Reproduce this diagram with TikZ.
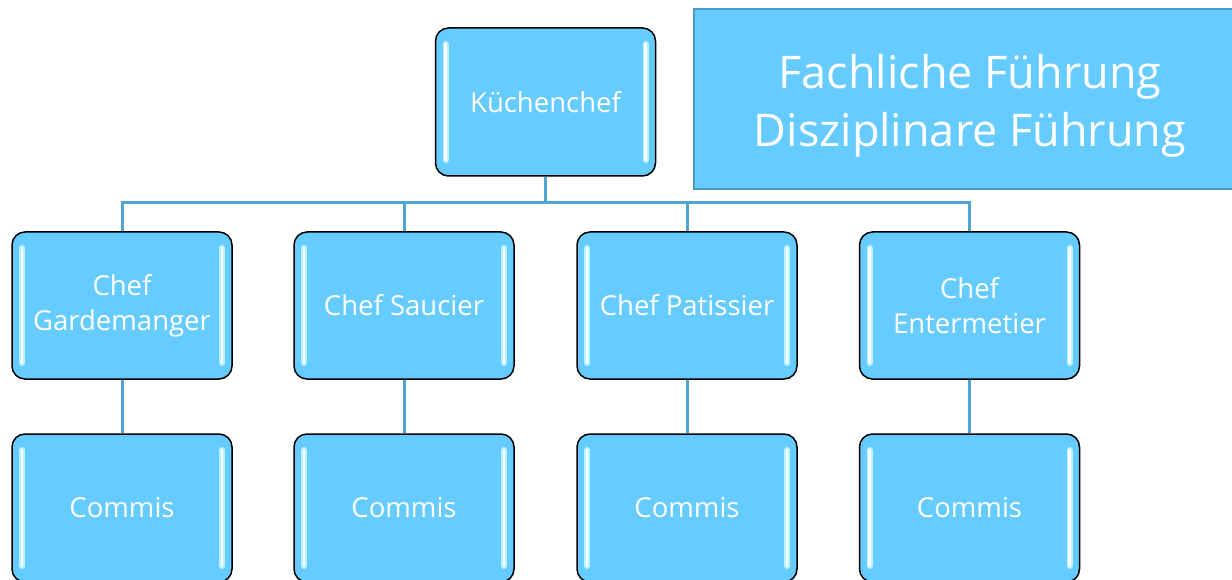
\documentclass[tikz,border=0pt]{standalone}
\usepackage{fontspec}
\setmainfont{Open Sans}
\definecolor{boxfill}{HTML}{66CCFF}
\definecolor{linecol}{HTML}{4FA6D2}
\definecolor{framecol}{HTML}{4B9BC8}
\definecolor{glowcol}{HTML}{B8F4FF}
\tikzset{
  orgbox/.style={draw=black, line width=1.5pt, fill=boxfill, rounded corners=13pt,
    minimum width=220pt, minimum height=147pt, inner sep=0pt, align=center,
    text=white, font=\fontsize{27.5}{35}\selectfont,
    path picture={
      \draw[glowcol, line width=6pt, line cap=round]
        ([xshift=10pt,yshift=-16pt]path picture bounding box.north west) --
        ([xshift=10pt,yshift=16pt]path picture bounding box.south west);
      \draw[glowcol, line width=6pt, line cap=round]
        ([xshift=-10pt,yshift=-16pt]path picture bounding box.north east) --
        ([xshift=-10pt,yshift=16pt]path picture bounding box.south east);
      \draw[white, line width=2.5pt, line cap=round]
        ([xshift=10pt,yshift=-16pt]path picture bounding box.north west) --
        ([xshift=10pt,yshift=16pt]path picture bounding box.south west);
      \draw[white, line width=2.5pt, line cap=round]
        ([xshift=-10pt,yshift=-16pt]path picture bounding box.north east) --
        ([xshift=-10pt,yshift=16pt]path picture bounding box.south east);
    }},
  conn/.style={draw=linecol, line width=3pt},
  legendbox/.style={draw=framecol, line width=2pt, fill=boxfill, minimum width=550pt,
    minimum height=180pt, inner sep=0pt},
  legendtext/.style={align=center, text=white, inner sep=0pt,
    font=\fontsize{45}{58}\selectfont}
}
\begin{document}
\begin{tikzpicture}[x=1pt,y=-1pt]
\useasboundingbox (0,0) rectangle (1232,580);
\clip (0,0) rectangle (1232,580);
\fill[white] (0,0) rectangle (1232,580);
% legend box
\node[legendbox] (leg) at (969,99) {};
\node[legendtext] (legtext) at (970,106) {Fachliche Führung\\Disziplinare Führung};
% top
\node[orgbox, minimum height=148pt] (k) at (545.5,102) {Küchenchef};
% row 2
\node[orgbox] (c1) at (122,305.5) {Chef\\Gardemanger};
\node[orgbox] (c2) at (404,305.5) {Chef Saucier};
\node[orgbox] (c3) at (687,305.5) {Chef Patissier};
\node[orgbox] (c4) at (969.5,305.5) {Chef\\Entermetier};
% row 3
\node[orgbox, minimum height=148pt] (m1) at (122,508) {Commis};
\node[orgbox, minimum height=148pt] (m2) at (404,508) {Commis};
\node[orgbox, minimum height=148pt] (m3) at (687,508) {Commis};
\node[orgbox, minimum height=148pt] (m4) at (969.5,508) {Commis};
% connectors
\coordinate (bus) at (545.5,203);
\draw[conn] (k.south) -- (bus);
\draw[conn] (bus) -| (c1.north);
\draw[conn] (bus) -| (c2.north);
\draw[conn] (bus) -| (c3.north);
\draw[conn] (bus) -| (c4.north);
\draw[conn] (c1.south) -- (m1.north);
\draw[conn] (c2.south) -- (m2.north);
\draw[conn] (c3.south) -- (m3.north);
\draw[conn] (c4.south) -- (m4.north);
\end{tikzpicture}
\end{document}
